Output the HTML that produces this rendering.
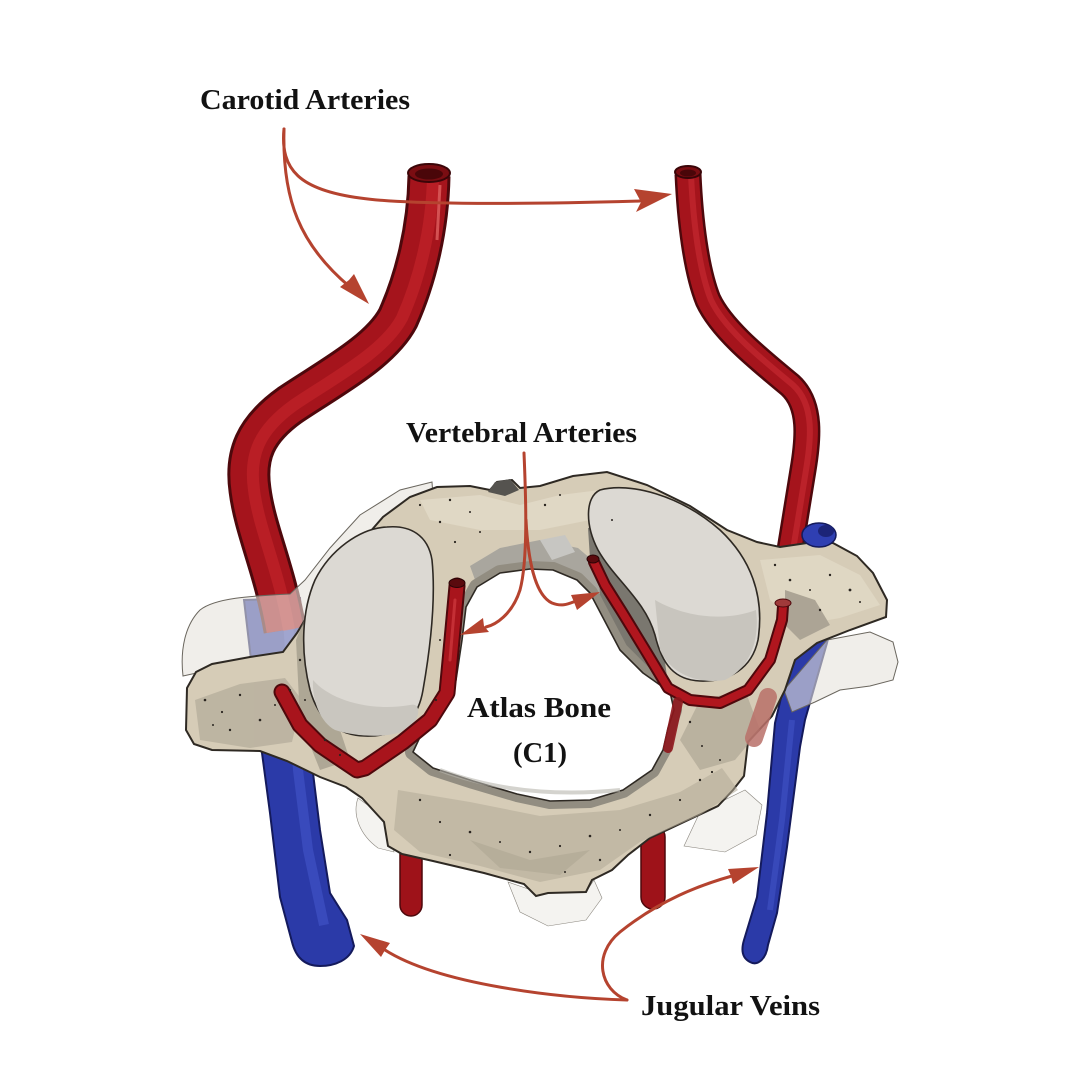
<!DOCTYPE html>
<html>
<head>
<meta charset="utf-8">
<style>
  html,body{margin:0;padding:0;background:#fff;}
  svg{display:block;}
  .lbl{font-family:"Liberation Serif","DejaVu Serif",serif;font-weight:bold;fill:#121212;}
</style>
</head>
<body>
<svg width="1080" height="1080" viewBox="0 0 1080 1080" xmlns="http://www.w3.org/2000/svg">
  <rect width="1080" height="1080" fill="#ffffff"/>

  <!-- ===== Jugular veins (behind) ===== -->
  <path d="M244,600 L300,598 L313,773 L320,830 L330,893 L347,920 L354,946 C350,960 335,966 320,966 C305,966 296,958 292,942 L280,897 L270,813 L262,753 Z" fill="#2b3aa8" stroke="#141a5c" stroke-width="2"/>
  <path d="M288,620 L298,770 L308,850 L324,925" fill="none" stroke="#4558cc" stroke-width="10" opacity="0.55"/>
  <path d="M806,605 L836,605 L827,643 L805,720 L800,747 L787,847 L777,913 L768,945 C766,960 757,966 750,962 C742,958 741,950 744,940 L757,897 L767,813 L775,723 L790,660 Z" fill="#2b3aa8" stroke="#141a5c" stroke-width="2"/>
  <path d="M792,720 L782,820 L770,910" fill="none" stroke="#4558cc" stroke-width="6" opacity="0.5"/>

  <!-- ===== Carotid arteries ===== -->
  <g fill="none" stroke-linejoin="round">
    <path d="M429,176 C428,230 415,280 398,318 C380,352 330,378 290,405 C255,430 245,455 250,490 C255,530 275,570 285,630" stroke="#4e080c" stroke-width="43"/>
    <path d="M429,176 C428,230 415,280 398,318 C380,352 330,378 290,405 C255,430 245,455 250,490 C255,530 275,570 285,630" stroke="#a5141c" stroke-width="37"/>
    <path d="M429,176 C428,230 415,280 398,318 C380,352 330,378 290,405 C255,430 245,455 250,490 C255,530 275,570 285,630" stroke="#c2222a" stroke-width="12" opacity="0.7" transform="translate(4,0)"/>
    <path d="M440,185 L437,240" stroke="#e06060" stroke-width="3" opacity="0.8"/>

    <path d="M688,174 C690,220 696,270 708,300 C722,330 760,360 790,385 C812,405 808,440 803,470 C798,500 794,525 790,550" stroke="#4e080c" stroke-width="27"/>
    <path d="M688,174 C690,220 696,270 708,300 C722,330 760,360 790,385 C812,405 808,440 803,470 C798,500 794,525 790,550" stroke="#a5141c" stroke-width="22"/>
    <path d="M688,174 C690,220 696,270 708,300 C722,330 760,360 790,385 C812,405 808,440 803,470 C798,500 794,525 790,550" stroke="#c42830" stroke-width="6" opacity="0.7" transform="translate(3,0)"/>
  </g>
  <ellipse cx="429" cy="173" rx="21" ry="9" fill="#7a0d12" stroke="#3a0508" stroke-width="2"/>
  <ellipse cx="429" cy="174" rx="14" ry="5.5" fill="#4a0609"/>
  <ellipse cx="688" cy="172" rx="13" ry="6" fill="#7a0d12" stroke="#3a0508" stroke-width="2"/>
  <ellipse cx="688" cy="173" rx="8" ry="3.5" fill="#4a0609"/>

  <!-- lower vertebral tubes -->
  <rect x="400" y="835" width="22" height="81" rx="11" fill="#9e1219" stroke="#4e080c" stroke-width="1.5"/>
  <rect x="641" y="825" width="24" height="84" rx="12" fill="#9e1219" stroke="#4e080c" stroke-width="1.5"/>

  <!-- ===== Translucent back parts ===== -->
  <g fill="#e6e3dc" fill-opacity="0.6" stroke="#6a665e" stroke-width="1">
    <path d="M183,676 C180,650 185,625 200,610 C215,598 250,596 290,594 L305,580 L330,548 L360,515 L400,490 L432,482 L440,600 L300,650 Z"/>
    <path d="M827,640 L870,632 L893,642 L898,662 L893,680 L870,686 L840,690 L815,702 L792,712 L784,690 Z"/>
  </g>
  <g fill="#f0eee9" fill-opacity="0.7" stroke="#8a867e" stroke-width="0.6">
    <path d="M358,798 C352,815 360,835 378,848 L394,852 L388,820 Z"/>
    <path d="M700,812 L745,790 L762,805 L756,835 L725,852 L684,846 Z"/>
    <path d="M508,882 L540,893 L586,892 L594,880 L602,898 L586,920 L548,926 L520,912 Z"/>
  </g>

  <!-- ===== Front bone ===== -->
  <path d="M187,688 L196,672 L212,664 L250,657 L283,652 L297,633 L317,600 L343,567 L363,540 L383,517 L410,497 L437,487 L470,486 L490,490 L497,482 L512,480 L520,488 L540,486 L573,476 L607,472 L647,485 L690,506 L727,530 L757,542 L780,547 L807,543 L833,543 L857,556 L873,573 L887,600 L886,617 L850,630 L817,643 L795,660 L785,690 L772,716 L748,742 L744,776 L733,790 L718,806 L684,822 L650,838 L628,855 L612,870 L592,880 L586,892 L548,893 L536,896 L524,884 L484,873 L433,861 L402,854 L388,846 L384,822 L362,798 L346,787 L320,777 L287,761 L260,751 L212,750 L194,744 L186,730 Z" fill="#d6ccb7" stroke="#2e2923" stroke-width="2"/>

  <!-- shading patches -->
  <g opacity="0.55">
    <path d="M195,700 L240,684 L285,678 L302,700 L292,742 L250,748 L200,740 Z" fill="#a9a292"/>
    <path d="M398,790 L470,802 L540,816 L620,810 L680,792 L722,768 L738,790 L700,815 L640,842 L600,870 L540,882 L480,866 L420,852 L394,830 Z" fill="#b3ab98"/>
    <path d="M296,640 L312,600 L330,700 L350,760 L320,770 L300,720 Z" fill="#8f897b"/>
    <path d="M760,560 L820,555 L860,575 L880,605 L840,618 L800,625 L770,600 Z" fill="#e8e0cd"/>
    <path d="M700,700 L745,690 L760,730 L735,760 L700,770 L680,740 Z" fill="#a49d8c"/>
    <path d="M420,500 L480,495 L520,505 L560,495 L600,490 L590,520 L540,530 L480,530 L430,520 Z" fill="#e9e2d1"/>
    <path d="M785,590 L815,600 L830,625 L800,640 L785,625 Z" fill="#8a857a"/>
    <path d="M470,840 L530,860 L590,850 L560,875 L500,868 Z" fill="#9d9684"/>
  </g>
  <!-- dark region between hole and right facet -->
  <path d="M588,528 L615,522 L628,560 L648,600 L662,640 L668,684 L642,672 L620,650 L602,612 L592,590 Z" fill="#7a776f"/>
  <!-- gray arch above hole -->
  <path d="M470,566 L500,548 L540,540 L578,548 L598,565 L600,594 L580,580 L553,570 L530,569 L500,573 L478,588 Z" fill="#a9a69e"/>
  <path d="M540,540 L565,535 L575,552 L552,560 Z" fill="#c7c6c2"/>
  <!-- dark notch -->
  <path d="M488,492 L495,482 L510,479 L519,490 L505,496 Z" fill="#55534f"/>

  <!-- hole -->
  <path d="M500,573 L530,569 L553,570 L577,580 L590,593 L600,612 L620,650 L643,673 L670,692 L674,710 L668,728 L663,750 L652,770 L623,790 L590,800 L550,801 L517,794 L473,781 L433,768 L413,752 L420,737 L440,712 L456,680 L462,640 L466,607 L477,587 Z" fill="none" stroke="#928d81" stroke-width="16" stroke-linejoin="round"/>
  <path d="M500,573 L530,569 L553,570 L577,580 L590,593 L600,612 L620,650 L643,673 L670,692 L674,710 L668,728 L663,750 L652,770 L623,790 L590,800 L550,801 L517,794 L473,781 L433,768 L413,752 L420,737 L440,712 L456,680 L462,640 L466,607 L477,587 Z" fill="#ffffff" stroke="#2e2923" stroke-width="1.6" stroke-linejoin="round"/>
  <path d="M440,770 Q520,800 620,790" fill="none" stroke="#b8b5ae" stroke-width="4" opacity="0.6"/>

  <!-- facets -->
  <path d="M387,527 C410,525 428,535 432,560 C436,600 430,650 423,690 C418,720 400,737 365,736 C335,735 318,718 310,690 C300,650 302,610 315,580 C330,550 360,528 387,527 Z" fill="#dcd9d3" stroke="#2e2923" stroke-width="1.6"/>
  <path d="M313,680 C330,700 370,712 410,705 C420,702 422,715 410,728 C395,738 360,738 335,730 C320,722 312,700 313,680 Z" fill="#c9c6bf"/>
  <path d="M600,490 C630,482 680,495 720,530 C750,558 765,595 758,640 C752,668 730,682 700,681 C675,680 662,665 655,635 C645,600 615,580 598,550 C585,525 585,497 600,490 Z" fill="#dcd9d3" stroke="#2e2923" stroke-width="1.6"/>
  <path d="M655,600 C690,620 730,620 756,610 C760,640 750,668 725,680 C700,684 672,676 660,650 Z" fill="#c8c5be"/>

  <!-- vertebral arteries on bone -->
  <g fill="none" stroke-linejoin="round" stroke-linecap="round">
    <path d="M457,586 L452,640 L447,693 L430,720 L403,742 L365,768 L357,770 L320,745 L300,725 L282,692" stroke="#4e080c" stroke-width="17"/>
    <path d="M457,586 L452,640 L447,693 L430,720 L403,742 L365,768 L357,770 L320,745 L300,725 L282,692" stroke="#a8141c" stroke-width="13"/>
    <path d="M455,600 L450,660" stroke="#d03a40" stroke-width="3" opacity="0.7"/>
    <path d="M594,562 L605,585 L622,612 L647,653 L668,688 L690,700 L720,703 L748,690 L770,660 L782,620 L783,606" stroke="#4e080c" stroke-width="12"/>
    <path d="M594,562 L605,585 L622,612 L647,653 L668,688 L690,700 L720,703 L748,690 L770,660 L782,620 L783,606" stroke="#b0161e" stroke-width="8"/>
    <path d="M768,697 L754,738" stroke="#b87068" stroke-width="18" opacity="0.85"/>
    <path d="M678,702 L668,748" stroke="#8e161c" stroke-width="10" opacity="0.9"/>
  </g>
  <ellipse cx="457" cy="583" rx="8" ry="4.5" fill="#5a0a0e" stroke="#2a0406" stroke-width="1"/>
  <ellipse cx="593" cy="559" rx="6" ry="4" fill="#5a0a0e" stroke="#2a0406" stroke-width="1"/>
  <ellipse cx="783" cy="603" rx="8" ry="4" fill="#a03a3a" stroke="#4e080c" stroke-width="1"/>

  <!-- blue cap right -->
  <ellipse cx="819" cy="535" rx="17" ry="12" fill="#2f3fb2" stroke="#141a5c" stroke-width="1.5"/>
  <ellipse cx="826" cy="531" rx="8" ry="6" fill="#1c2478"/>

  <!-- bone specks -->
  <g fill="#2a2520">
    <circle cx="205" cy="700" r="1.3"/><circle cx="222" cy="712" r="1.1"/><circle cx="240" cy="695" r="1.2"/>
    <circle cx="260" cy="720" r="1.3"/><circle cx="275" cy="705" r="1"/><circle cx="230" cy="730" r="1.2"/>
    <circle cx="290" cy="690" r="1.1"/><circle cx="213" cy="725" r="1"/><circle cx="300" cy="660" r="1.2"/>
    <circle cx="305" cy="700" r="1"/><circle cx="325" cy="740" r="1.2"/><circle cx="340" cy="755" r="1.1"/>
    <circle cx="420" cy="505" r="1.1"/><circle cx="450" cy="500" r="1.2"/><circle cx="470" cy="512" r="1"/>
    <circle cx="440" cy="522" r="1.2"/><circle cx="455" cy="542" r="1.1"/><circle cx="480" cy="532" r="1"/>
    <circle cx="545" cy="505" r="1.2"/><circle cx="560" cy="495" r="1"/><circle cx="775" cy="565" r="1.2"/>
    <circle cx="790" cy="580" r="1.3"/><circle cx="810" cy="590" r="1"/><circle cx="830" cy="575" r="1.2"/>
    <circle cx="850" cy="590" r="1.4"/><circle cx="860" cy="602" r="1"/><circle cx="820" cy="610" r="1.2"/>
    <circle cx="420" cy="800" r="1.2"/><circle cx="440" cy="822" r="1.1"/><circle cx="470" cy="832" r="1.3"/>
    <circle cx="500" cy="842" r="1"/><circle cx="530" cy="852" r="1.2"/><circle cx="560" cy="846" r="1.1"/>
    <circle cx="590" cy="836" r="1.3"/><circle cx="620" cy="830" r="1"/><circle cx="650" cy="815" r="1.2"/>
    <circle cx="680" cy="800" r="1.1"/><circle cx="700" cy="780" r="1.2"/><circle cx="720" cy="760" r="1"/>
    <circle cx="450" cy="855" r="1.1"/><circle cx="600" cy="860" r="1.2"/><circle cx="565" cy="872" r="1"/>
    <circle cx="690" cy="722" r="1.2"/><circle cx="702" cy="746" r="1"/><circle cx="712" cy="772" r="1.1"/>
    <circle cx="440" cy="640" r="1"/><circle cx="436" cy="700" r="1.1"/><circle cx="612" cy="520" r="1"/>
  </g>

  <!-- ===== Arrows ===== -->
  <g fill="none" stroke="#b5432f" stroke-width="3" stroke-linecap="round">
    <path d="M284,129 C280,170 300,190 360,198 C400,204 500,205 640,201"/>
    <path d="M284,129 C282,200 300,245 350,287"/>
    <path d="M524,453 C526,500 528,560 520,590 C512,615 495,625 486,627"/>
    <path d="M526,520 C528,560 535,595 552,603 C562,607 568,604 576,601"/>
    <path d="M627,1000 C560,998 440,985 385,950"/>
    <path d="M627,1000 C600,990 592,955 620,932 C660,900 700,885 732,876"/>
  </g>
  <g fill="#b5432f">
    <polygon points="672,194 634,189 641,202 636,212"/>
    <polygon points="369,304 340,287 349,280 354,274"/>
    <polygon points="460,635 489,632 484,626 483,618"/>
    <polygon points="600,592 577,610 574,602 571,595"/>
    <polygon points="360,934 390,943 385,950 381,957"/>
    <polygon points="759,867 733,884 731,876 728,869"/>
  </g>

  <!-- ===== Labels ===== -->
  <text class="lbl" x="200" y="109" font-size="28" textLength="210" lengthAdjust="spacingAndGlyphs">Carotid Arteries</text>
  <text class="lbl" x="406" y="442" font-size="28" textLength="231" lengthAdjust="spacingAndGlyphs">Vertebral Arteries</text>
  <text class="lbl" x="467" y="717" font-size="28" textLength="144" lengthAdjust="spacingAndGlyphs">Atlas Bone</text>
  <text class="lbl" x="513" y="762" font-size="28" textLength="54" lengthAdjust="spacingAndGlyphs">(C1)</text>
  <text class="lbl" x="641" y="1015" font-size="28" textLength="179" lengthAdjust="spacingAndGlyphs">Jugular Veins</text>
</svg>
</body>
</html>
